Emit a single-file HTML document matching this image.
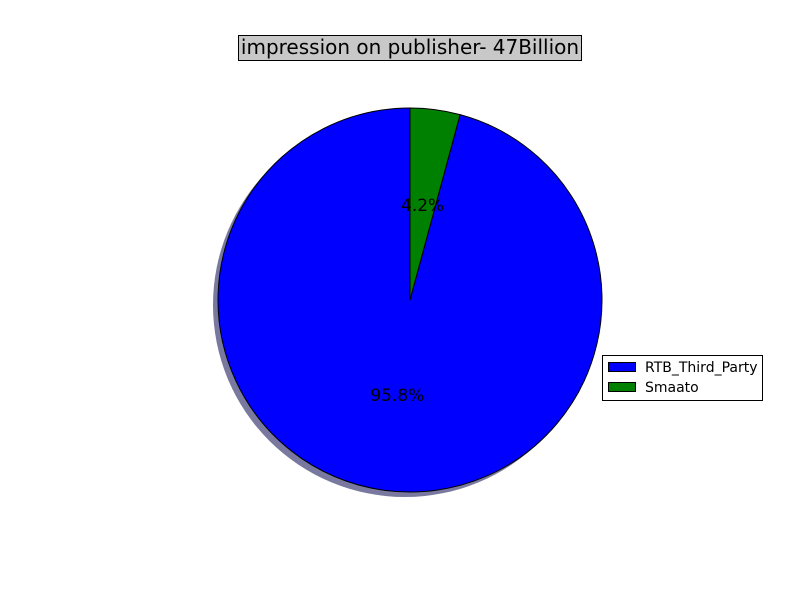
<!DOCTYPE html>
<html><head><meta charset="utf-8"><style>
body{margin:0;background:#fff;}
svg{display:block;font-family:"DejaVu Sans","Liberation Sans",sans-serif;}
</style></head><body>
<svg id="chart" width="800" height="600">
  <rect width="800" height="600" fill="#fff"/>
  <g id="pie"></g>
  <g>
    <rect x="238.5" y="35.5" width="343" height="25" fill="#c8c8c8" stroke="#000"/>
    <text x="410" y="54" text-anchor="middle" font-size="20">impression on publisher- 47Billion</text>
  </g>
  <g>
    <rect x="602.5" y="355.5" width="160" height="45" fill="#fff" stroke="#000"/>
    <g>
      <rect x="608.5" y="362.5" width="27" height="9" fill="#0000ff" stroke="#000"/>
      <text x="645" y="372" font-size="14">RTB_Third_Party</text>
    </g>
    <g>
      <rect x="608.5" y="382.5" width="27" height="9" fill="#008000" stroke="#000"/>
      <text x="645" y="392" font-size="14">Smaato</text>
    </g>
  </g>
</svg>
<script>
const categories = ["RTB_Third_Party", "Smaato"];
const values = [95.8, 4.2];
const colors = ["#0000ff", "#008000"];
const cx = 410, cy = 300, r = 192;
const g = document.getElementById('pie');
const NS = "http://www.w3.org/2000/svg";
const shadow = document.createElementNS(NS, 'circle');
shadow.setAttribute('cx', cx - 5); shadow.setAttribute('cy', cy + 5); shadow.setAttribute('r', r);
shadow.setAttribute('fill', '#4c4c80'); shadow.setAttribute('opacity', '0.75');


g.appendChild(shadow);
const total = values.reduce((a, b) => a + b, 0);
let start = 90;
function pt(deg, rad) { const a = deg * Math.PI / 180; return [cx + rad * Math.cos(a), cy - rad * Math.sin(a)]; }
values.forEach((v, i) => {
  const sweep = v / total * 360;
  const end = start + sweep;
  const p1 = pt(start, r), p2 = pt(end, r);
  const large = sweep > 180 ? 1 : 0;
  const path = document.createElementNS(NS, 'path');
  path.setAttribute('d', `M${cx},${cy} L${p1[0]},${p1[1]} A${r},${r} 0 ${large} 0 ${p2[0]},${p2[1]} Z`);
  path.setAttribute('fill', colors[i]); path.setAttribute('stroke', '#000'); path.setAttribute('stroke-width', '1');
  
  
  g.appendChild(path);
  const mid = (start + end) / 2;
  const lp = pt(mid, r * 0.5);
  const t = document.createElementNS(NS, 'text');
  t.setAttribute('x', lp[0]); t.setAttribute('y', lp[1] + 6);
  t.setAttribute('text-anchor', 'middle'); t.setAttribute('font-size', '17');
  t.textContent = v.toFixed(1) + '%';
  
  
  g.appendChild(t);
  start = end;
});
</script>
</body></html>
